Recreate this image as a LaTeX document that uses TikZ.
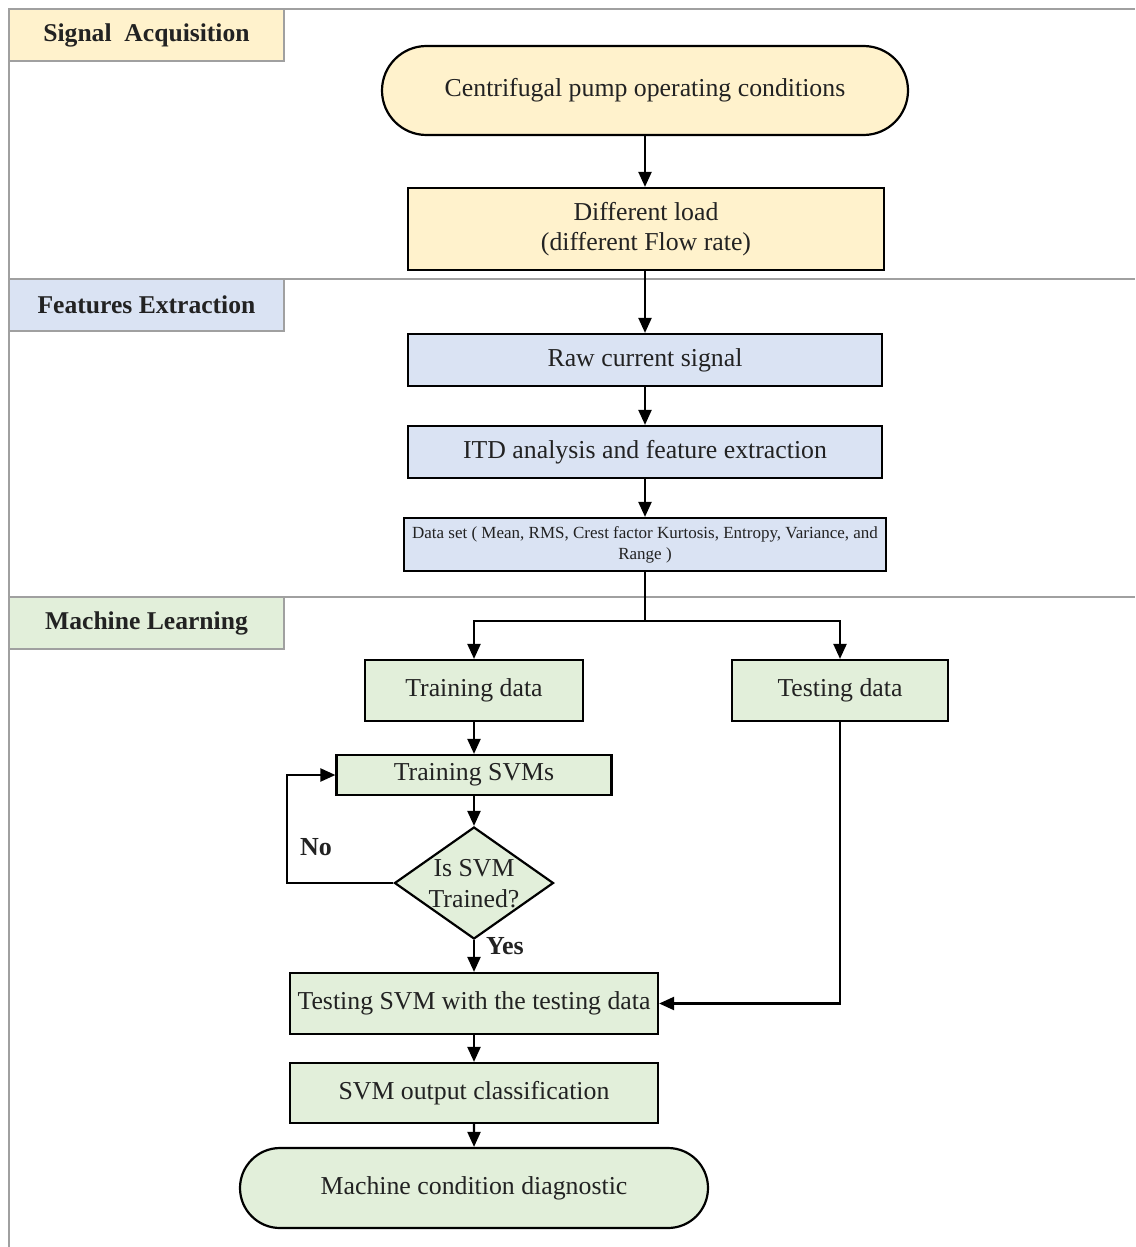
\documentclass[tikz,border=0pt]{standalone}
\usepackage{fontspec}
\setmainfont{Liberation Serif}
\usetikzlibrary{shapes.geometric,shapes.misc,arrows.meta}
\definecolor{cyel}{HTML}{FFF2CC}
\definecolor{cblu}{HTML}{DAE3F3}
\definecolor{cgrn}{HTML}{E2EFDA}
\definecolor{cframe}{HTML}{A0A0A0}
\definecolor{ctxt}{HTML}{222222}
\tikzset{
  box/.style={draw=black, line width=1.1pt, rectangle, inner sep=2pt, align=center, font=\fontsize{12.9}{15}\selectfont, text=ctxt},
  term/.style={draw=black, line width=1.1pt, rounded rectangle, inner sep=2pt, align=center, font=\fontsize{12.9}{15}\selectfont, text=ctxt},
  hdr/.style={draw=cframe, line width=0.7pt, rectangle, inner sep=0pt, font=\bfseries\fontsize{12.8}{14}\selectfont, text=ctxt},
  sep/.style={draw=cframe, line width=0.7pt},
  conn/.style={draw=black, line width=1.1pt},
  arr/.style={conn, -{Triangle[length=7.5pt,width=6.5pt]}},
  lbl/.style={font=\bfseries\fontsize{13}{15}\selectfont, text=ctxt},
}
\begin{document}
\begin{tikzpicture}[x=0.5pt,y=-0.5pt]
\useasboundingbox (0,0) rectangle (1135,1247);
% frame
\draw[sep] (9,1247) -- (9,9) -- (1135,9);
\draw[sep] (9,279) -- (1135,279);
\draw[sep] (9,597) -- (1135,597);
% headers
\node[hdr, fill=cyel, minimum width=137.5pt, minimum height=26pt] (h1) at (146.5,35) {Signal\ \ Acquisition};
\node[hdr, fill=cblu, minimum width=137.5pt, minimum height=26pt] (h2) at (146.5,305) {Features Extraction};
\node[hdr, fill=cgrn, minimum width=137.5pt, minimum height=26pt] (h3) at (146.5,623) {Machine Learning};
% nodes
\node[term, fill=cyel, minimum width=267pt, minimum height=44.5pt] (t1) at (645,90.5) {Centrifugal pump operating conditions};
\node[box, fill=cyel, minimum width=238pt, minimum height=41pt] (n2) at (646,229) {Different load\\(different Flow rate)};
\node[box, fill=cblu, minimum width=237pt, minimum height=26pt] (raw) at (645,360) {Raw current signal};
\node[box, fill=cblu, minimum width=237pt, minimum height=26pt] (itd) at (645,452) {ITD analysis and feature extraction};
\node[box, fill=cblu, minimum width=241pt, minimum height=26.5pt, font=\fontsize{8.5}{10.5}\selectfont] (data) at (645,544.5) {Data set ( Mean, RMS, Crest factor Kurtosis, Entropy, Variance, and\\Range )};
\coordinate (split) at (645,621);
\node[box, fill=cgrn, minimum width=109pt, minimum height=30.5pt] (train) at (474,690.5) {Training data};
\node[box, fill=cgrn, minimum width=108pt, minimum height=30.5pt] (test) at (840,690.5) {Testing data};
\node[box, fill=cgrn, minimum width=137.5pt, minimum height=20pt] (tsvm) at (474,775) {Training SVMs};
\node[diamond, draw=black, line width=1.1pt, fill=cgrn, minimum width=79.5pt, minimum height=56pt, inner sep=0pt] (dia) at (474,883) {};
\node[align=center, font=\fontsize{12.9}{15.5}\selectfont, text=ctxt, inner sep=0pt] (diatext) at (474,884) {Is SVM\\Trained?};
\node[box, fill=cgrn, minimum width=184pt, minimum height=30.5pt] (tsvm2) at (474,1003.5) {Testing SVM with the testing data};
\node[box, fill=cgrn, minimum width=184pt, minimum height=30pt] (out) at (474,1093) {SVM output classification};
\node[term, fill=cgrn, minimum width=238pt, minimum height=40pt] (diag) at (474,1188) {Machine condition diagnostic};
\coordinate (loop) at (287,883);
% connectors
\draw[arr] (t1.south) -- (n2.north -| t1.south);
\draw[arr] (n2.south -| raw.north) -- (raw.north);
\draw[arr] (raw) -- (itd);
\draw[arr] (itd) -- (data);
\draw[conn] (data.south) -- (split);
\draw[arr] (split) -| (train.north);
\draw[arr] (split) -| (test.north);
\draw[arr] (train) -- (tsvm);
\draw[arr] (tsvm) -- (dia);
\draw[arr] (dia) -- (tsvm2);
\draw[arr] (dia.west) -- (loop) |- (tsvm.west);
\draw[arr] (test.south) |- (tsvm2.east);
\draw[arr] (tsvm2) -- (out);
\draw[arr] (out) -- (diag);
% labels
\node[lbl] (no) at (316,847) {No};
\node[lbl] (yes) at (505,946) {Yes};
\end{tikzpicture}
\end{document}
